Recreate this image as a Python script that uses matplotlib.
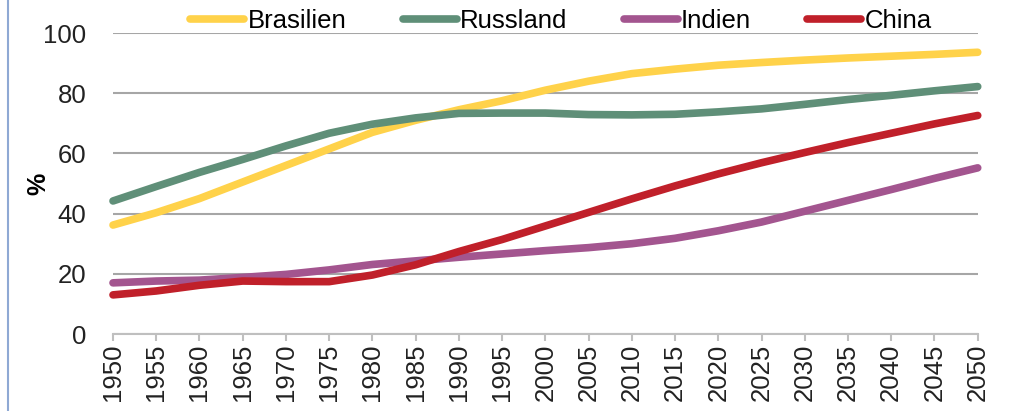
import matplotlib.pyplot as plt
from matplotlib.lines import Line2D

years = list(range(1950, 2051, 5))

brasilien = [36.2, 40.3, 45.0, 50.5, 56.0, 61.5, 67.0, 71.0, 74.5, 77.5, 81.0,
             84.0, 86.5, 88.0, 89.3, 90.2, 91.0, 91.7, 92.3, 92.9, 93.6]
russland = [44.2, 49.0, 53.7, 58.0, 62.5, 66.7, 69.7, 71.8, 73.3, 73.4, 73.4,
            72.9, 72.8, 73.0, 73.8, 74.8, 76.3, 77.9, 79.3, 80.8, 82.2]
indien = [17.0, 17.6, 17.9, 18.8, 19.8, 21.3, 23.1, 24.3, 25.5, 26.6, 27.7,
          28.7, 30.0, 31.8, 34.3, 37.2, 40.8, 44.4, 48.0, 51.7, 55.2]
china = [13.0, 14.3, 16.2, 17.6, 17.4, 17.4, 19.6, 23.0, 27.4, 31.4, 35.9,
         40.4, 44.9, 49.2, 53.2, 56.9, 60.3, 63.6, 66.7, 69.8, 72.6]

series = [
    ("Brasilien", brasilien, "#FFD24A"),
    ("Russland", russland, "#5F8F78"),
    ("Indien", indien, "#A3558F"),
    ("China", china, "#C0202A"),
]

plt.rcParams["font.family"] = ["Liberation Sans", "DejaVu Sans"]

fig = plt.figure(figsize=(10.09, 4.11), dpi=100)
ax = fig.add_axes([0.112, 0.1873, 0.857, 0.7324])

for name, vals, col in series:
    ax.plot(years, vals, color=col, lw=5.5, label=name,
            solid_capstyle="round", clip_on=False, zorder=3)

ax.set_xlim(1950, 2050)
ax.set_ylim(0, 100)
ax.set_yticks(range(0, 101, 20))
ax.set_xticks(years)
ax.set_xticklabels([str(y) for y in years], rotation=90)
ax.grid(axis="y", color="#A6A6A6", lw=1.5)
ax.set_axisbelow(True)
for s in ["top", "right", "left"]:
    ax.spines[s].set_visible(False)
ax.spines["bottom"].set_color("#BFBFBF")
ax.spines["bottom"].set_linewidth(1.5)
ax.tick_params(axis="x", length=5, width=1.5, color="#BFBFBF", pad=2,
               labelsize=18.5, labelcolor="#222222")
ax.tick_params(axis="y", length=0, pad=19, labelsize=18.5, labelcolor="#222222")
ax.set_ylabel("%", fontsize=18, fontweight="bold", labelpad=-5)

ax.legend(loc="lower center", bbox_to_anchor=(0.518, 0.965), ncol=4,
          frameon=False, fontsize=18.5, handlelength=2.1, handletextpad=0.12,
          columnspacing=2.2, borderaxespad=0)

# thin frame line on the left edge
fig.add_artist(Line2D([0.0075, 0.0075], [0, 1], color="#8FA9D4", lw=1.5,
                      transform=fig.transFigure))

fig.savefig("out.png", dpi=100)
